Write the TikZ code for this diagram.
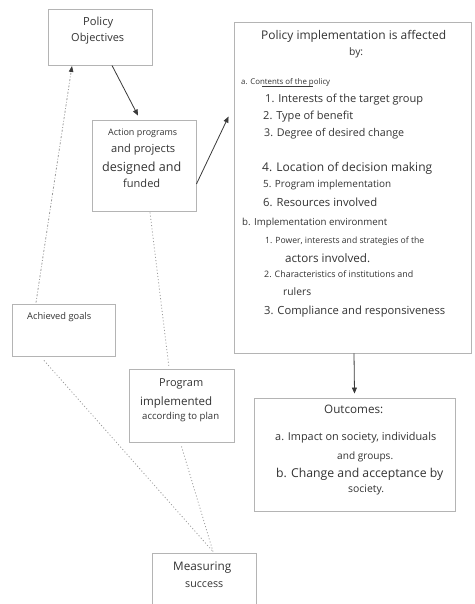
\documentclass[tikz,border=0pt]{standalone}
\usepackage{fontspec}
\usepackage{graphicx}
\setmainfont{Open Sans}
\usetikzlibrary{arrows.meta}
\definecolor{ink}{HTML}{333333}
\definecolor{frame}{HTML}{B4B4B4}
\definecolor{link}{HTML}{3A3A3A}
\definecolor{dots}{HTML}{9A9A9A}
% a line of text set to a given width (in pt)
\newcommand\fitline[2]{\resizebox{#1pt}{!}{\fontsize{10}{12}\selectfont\vphantom{Ay}#2}}
\tikzset{
  box/.style={draw=frame, line width=0.9pt, fill=white, inner sep=0pt},
  txt/.style={text=ink, inner sep=0pt, anchor=west},
  arr/.style={draw=link, line width=0.8pt, -{Triangle[length=6pt,width=5pt]}},
  dotline/.style={draw=dots, line width=0.8pt, dash pattern=on 1pt off 2.2pt},
  dashdotline/.style={draw=dots, line width=0.8pt, dash pattern=on 2pt off 1.8pt on 0.8pt off 1.8pt}
}
\begin{document}
\begin{tikzpicture}[x=1pt,y=-1pt]
\useasboundingbox (0,0) rectangle (474,604);
\clip (0,0) rectangle (474,604);
\fill[white] (0,0) rectangle (474,604);

% boxes
\node[box, minimum width=104, minimum height=56] (po) at (100,37) {};
\node[box, minimum width=104, minimum height=91] (ap) at (144,165.5) {};
\node[box, minimum width=237, minimum height=331] (big) at (352.5,187.5) {};
\node[box, minimum width=201, minimum height=113] (out) at (354.5,454.5) {};
\node[box, minimum width=105, minimum height=73] (pi) at (181.5,405.5) {};
\node[box, minimum width=104, minimum height=62] (ms) at (204,584) {};
\node[box, minimum width=103, minimum height=52] (ag) at (63.5,330) {};

% Policy objectives
\node[txt] (po1) at (83,23) {\fitline{30}{Policy}};
\node[txt] (po2) at (71,39) {\fitline{53}{Objectives}};

% Action programs
\node[txt] (ap1) at (108,133) {\fitline{69}{Action programs}};
\node[txt] (ap2) at (111,150) {\fitline{64}{and projects}};
\node[txt] (ap3) at (102,168) {\fitline{79}{designed and}};
\node[txt] (ap4) at (123,185) {\fitline{37}{funded}};

% Factors affecting implementation
\node[txt] (b0) at (261,36) {\fitline{185}{Policy implementation is affected}};
\node[txt] (b1) at (349,53) {\fitline{14}{by:}};
\node[txt] (b2) at (241,82) {\fitline{89}{a. Contents of the policy}};
\draw[link, line width=0.6pt] (262,86) -- (313,86);
\node[txt] (b3) at (265,100) {\fitline{158}{1. Interests of the target group}};
\node[txt] (b4) at (263,117) {\fitline{90}{2. Type of benefit}};
\node[txt] (b5) at (264,134) {\fitline{140}{3. Degree of desired change}};
\node[txt] (b6) at (262,168) {\fitline{170}{4. Location of decision making}};
\node[txt] (b7) at (263,185) {\fitline{128}{5. Program implementation}};
\node[txt] (b8) at (263,204) {\fitline{114}{6. Resources involved}};
\node[txt] (b9) at (242,223) {\fitline{145}{b. Implementation environment}};
\node[txt] (b10) at (265,241) {\fitline{159}{1. Power, interests and strategies of the}};
\node[txt] (b11) at (285,259) {\fitline{85}{actors involved.}};
\node[txt] (b12) at (264,275) {\fitline{149}{2. Characteristics of institutions and}};
\node[txt] (b13) at (283,293) {\fitline{28}{rulers}};
\node[txt] (b14) at (264,312) {\fitline{181}{3. Compliance and responsiveness}};

% Outcomes
\node[txt] (o1) at (324,411) {\fitline{59}{Outcomes:}};
\node[txt] (o2) at (275,438) {\fitline{161}{a. Impact on society, individuals}};
\node[txt] (o3) at (337,457) {\fitline{56}{and groups.}};
\node[txt] (o4) at (276,474) {\fitline{167}{b. Change and acceptance by}};
\node[txt] (o5) at (348,490) {\fitline{36}{society.}};

% Program implemented
\node[txt] (pi1) at (159,384) {\fitline{44}{Program}};
\node[txt] (pi2) at (140,402) {\fitline{72}{implemented}};
\node[txt] (pi3) at (142,417) {\fitline{77}{according to plan}};

% Measuring success
\node[txt] (ms1) at (173,568) {\fitline{58}{Measuring}};
\node[txt] (ms2) at (185,585) {\fitline{38}{success}};

% Achieved goals
\node[txt] (ag1) at (27,317) {\fitline{64}{Achieved goals}};

% solid connectors
\draw[arr] ([xshift=12]po.south) -- ([xshift=-6,yshift=4]ap.north);
\draw[arr] ([yshift=-18.5]ap.east) -- ([xshift=-5,yshift=-95]big.north west);
\draw[arr] ([xshift=1.5]big.south) -- ([yshift=4]out.north);

% dotted connectors
\draw[dashdotline, -{Triangle[length=6pt,width=4.5pt,fill=link,color=link]}] ([xshift=-27.5,yshift=1]ag.north) -- ([xshift=-28,yshift=-0.5]po.south);
\draw[dotline] ([xshift=6,yshift=-1]ap.south) -- ([xshift=-12.5,yshift=1]pi.north);
\draw[dotline] ([xshift=-19.5,yshift=-4]ag.south) -- ([xshift=9,yshift=1]ms.north);
\draw[dotline] ([yshift=-4]pi.south) -- ([xshift=9,yshift=1]ms.north);
\end{tikzpicture}
\end{document}
